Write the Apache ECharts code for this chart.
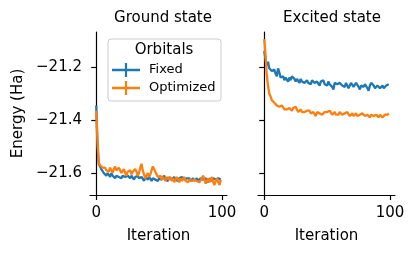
<!DOCTYPE html>
<html><head><meta charset="utf-8">
<script src="https://cdn.jsdelivr.net/npm/echarts@6/dist/echarts.min.js"></script>
<style>html,body{margin:0;padding:0;background:#fff}#c{width:416px;height:254px}</style>
</head><body><div id="c"></div>
<script>
const iterations = Array.from({length: 100}, (_, i) => i);
const groundFixed = [-21.345,-21.50,-21.565,-21.575,-21.585,-21.59,-21.60,-21.595,-21.61,-21.60,
-21.605,-21.615,-21.60,-21.61,-21.605,-21.62,-21.61,-21.605,-21.615,-21.61,
-21.62,-21.61,-21.605,-21.615,-21.62,-21.61,-21.615,-21.62,-21.61,-21.615,
-21.625,-21.615,-21.62,-21.61,-21.62,-21.625,-21.615,-21.62,-21.63,-21.615,
-21.62,-21.625,-21.615,-21.62,-21.63,-21.62,-21.615,-21.625,-21.62,-21.63,
-21.62,-21.615,-21.625,-21.62,-21.61,-21.625,-21.62,-21.63,-21.615,-21.62,
-21.625,-21.62,-21.615,-21.625,-21.62,-21.63,-21.62,-21.625,-21.615,-21.62,
-21.625,-21.63,-21.62,-21.625,-21.62,-21.63,-21.625,-21.62,-21.63,-21.625,
-21.62,-21.63,-21.625,-21.62,-21.615,-21.625,-21.63,-21.62,-21.625,-21.635,
-21.62,-21.625,-21.63,-21.62,-21.615,-21.625,-21.63,-21.62,-21.615,-21.625];
const groundOptimized = [-21.365,-21.47,-21.56,-21.57,-21.575,-21.58,-21.585,-21.58,-21.59,-21.585,
-21.595,-21.58,-21.59,-21.60,-21.585,-21.575,-21.59,-21.595,-21.58,-21.59,
-21.60,-21.595,-21.585,-21.60,-21.61,-21.595,-21.60,-21.59,-21.605,-21.595,
-21.60,-21.585,-21.595,-21.61,-21.60,-21.58,-21.565,-21.59,-21.605,-21.62,
-21.61,-21.60,-21.615,-21.605,-21.59,-21.575,-21.57,-21.595,-21.60,-21.615,
-21.62,-21.61,-21.625,-21.615,-21.62,-21.63,-21.615,-21.62,-21.625,-21.615,
-21.63,-21.62,-21.635,-21.625,-21.615,-21.625,-21.635,-21.62,-21.63,-21.625,
-21.615,-21.63,-21.625,-21.635,-21.625,-21.62,-21.63,-21.635,-21.625,-21.62,
-21.63,-21.625,-21.635,-21.63,-21.62,-21.61,-21.625,-21.64,-21.63,-21.62,
-21.635,-21.625,-21.615,-21.635,-21.645,-21.63,-21.62,-21.635,-21.645,-21.625];
const excitedFixed = [-21.14,-21.17,-21.195,-21.18,-21.205,-21.21,-21.215,-21.22,-21.21,-21.225,
-21.235,-21.205,-21.22,-21.24,-21.245,-21.235,-21.25,-21.24,-21.245,-21.255,
-21.24,-21.25,-21.235,-21.23,-21.245,-21.255,-21.245,-21.25,-21.26,-21.245,
-21.255,-21.25,-21.26,-21.265,-21.25,-21.26,-21.255,-21.265,-21.25,-21.245,
-21.26,-21.265,-21.255,-21.26,-21.27,-21.255,-21.26,-21.25,-21.265,-21.26,
-21.27,-21.255,-21.265,-21.26,-21.275,-21.285,-21.26,-21.255,-21.265,-21.27,
-21.26,-21.255,-21.27,-21.265,-21.275,-21.26,-21.265,-21.28,-21.27,-21.26,
-21.265,-21.275,-21.27,-21.26,-21.265,-21.275,-21.285,-21.27,-21.265,-21.275,
-21.265,-21.27,-21.28,-21.29,-21.27,-21.26,-21.255,-21.27,-21.28,-21.275,
-21.27,-21.275,-21.28,-21.275,-21.27,-21.28,-21.275,-21.27,-21.265,-21.265];
const excitedOptimized = [-21.095,-21.15,-21.23,-21.27,-21.30,-21.31,-21.325,-21.33,-21.335,-21.34,
-21.345,-21.34,-21.35,-21.355,-21.345,-21.35,-21.36,-21.355,-21.36,-21.365,
-21.355,-21.36,-21.365,-21.355,-21.36,-21.35,-21.36,-21.37,-21.365,-21.36,
-21.37,-21.365,-21.37,-21.375,-21.365,-21.37,-21.365,-21.375,-21.38,-21.37,
-21.375,-21.385,-21.37,-21.365,-21.375,-21.37,-21.38,-21.375,-21.37,-21.365,
-21.37,-21.375,-21.365,-21.37,-21.38,-21.375,-21.37,-21.38,-21.375,-21.38,
-21.37,-21.375,-21.38,-21.385,-21.375,-21.38,-21.37,-21.375,-21.385,-21.38,
-21.375,-21.385,-21.38,-21.375,-21.385,-21.39,-21.38,-21.385,-21.375,-21.38,
-21.385,-21.39,-21.38,-21.385,-21.39,-21.38,-21.375,-21.385,-21.39,-21.38,
-21.385,-21.39,-21.38,-21.385,-21.39,-21.385,-21.38,-21.385,-21.38,-21.375];
const panelTitles = ['Ground state', 'Excited state'];
const seriesNames = ['Fixed', 'Optimized'];
const xTicks = [0, 100];
const yTicks = [-21.2, -21.4, -21.6];

const FONT = 'DejaVu Sans';
const BLUE = '#1f77b4', ORANGE = '#ff7f0e';
const chart = echarts.init(document.getElementById('c'), null, {renderer: 'canvas'});
const pair = arr => arr.map((v, i) => [iterations[i], v]);
const fmtY = v => (v < 0 ? '\u2212' : '') + Math.abs(v).toFixed(1);

function xAxis(idx) {
  return {
    type: 'value', gridIndex: idx, min: -4.95, max: 103.95,
    name: 'Iteration', nameLocation: 'middle', nameGap: 34,
    nameTextStyle: {fontFamily: FONT, fontSize: 15, color: '#000'},
    axisLine: {show: true, lineStyle: {color: '#000', width: 1.2}},
    axisTick: {show: true, customValues: xTicks, length: 5, lineStyle: {color: '#000', width: 1.2}},
    axisLabel: {customValues: xTicks, fontFamily: FONT, fontSize: 15, color: '#000', margin: 11},
    splitLine: {show: false}
  };
}
function yAxis(idx, labels) {
  return {
    type: 'value', gridIndex: idx, min: -21.683, max: -21.068,
    name: labels ? 'Energy (Ha)' : '', nameLocation: 'middle', nameGap: 64,
    nameTextStyle: {fontFamily: FONT, fontSize: 15, color: '#000'},
    axisLine: {show: true, lineStyle: {color: '#000', width: 1.2}},
    axisTick: {show: true, customValues: yTicks, length: 5, lineStyle: {color: '#000', width: 1.2}},
    axisLabel: {show: labels, customValues: yTicks, formatter: fmtY, fontFamily: FONT, fontSize: 15, color: '#000', margin: 8},
    splitLine: {show: false}
  };
}
function line(name, data, color, idx) {
  return {
    type: 'line', name: name, xAxisIndex: idx, yAxisIndex: idx,
    data: pair(data), showSymbol: false, symbol: 'none',
    lineStyle: {color: color, width: 2.3}, itemStyle: {color: color},
    animation: false
  };
}
const plusIcon = 'path://M0,8.7 L28,8.7 L28,11.3 L0,11.3 Z M12.9,3 L15.1,3 L15.1,17 L12.9,17 Z';

chart.setOption({
  animation: false,
  backgroundColor: '#fff',
  title: [
    {text: panelTitles[0], left: 158, top: 6, textAlign: 'center', textStyle: {fontFamily: FONT, fontSize: 15, fontWeight: 'normal', color: '#000'}},
    {text: panelTitles[1], left: 327, top: 6, textAlign: 'center', textStyle: {fontFamily: FONT, fontSize: 15, fontWeight: 'normal', color: '#000'}}
  ],
  grid: [
    {left: 90, right: 189, top: 32, bottom: 59},
    {left: 258, right: 21, top: 32, bottom: 59}
  ],
  xAxis: [xAxis(0), xAxis(1)],
  yAxis: [yAxis(0, true), yAxis(1, false)],
  graphic: [
    {type: 'rect', shape: {x: 108, y: 39, width: 113, height: 62, r: 3}, z: 100,
     style: {fill: 'rgba(255,255,255,0.8)', stroke: '#cccccc', lineWidth: 1}},
    {type: 'text', x: 164, y: 50, z: 101,
     style: {text: 'Orbitals', fontFamily: FONT, fontSize: 15, fill: '#000', align: 'center', verticalAlign: 'middle'}}
  ],
  legend: {
    data: seriesNames.map(n => ({name: n, icon: plusIcon})),
    orient: 'vertical', left: 112, top: 63, itemWidth: 28, itemHeight: 14, itemGap: 4,
    z: 102, padding: 0,
    textStyle: {fontFamily: FONT, fontSize: 13, color: '#000', padding: [0, 0, 0, 4]}
  },
  series: [
    line(seriesNames[0], groundFixed, BLUE, 0),
    line(seriesNames[1], groundOptimized, ORANGE, 0),
    line(seriesNames[0], excitedFixed, BLUE, 1),
    line(seriesNames[1], excitedOptimized, ORANGE, 1)
  ]
});
</script></body></html>
